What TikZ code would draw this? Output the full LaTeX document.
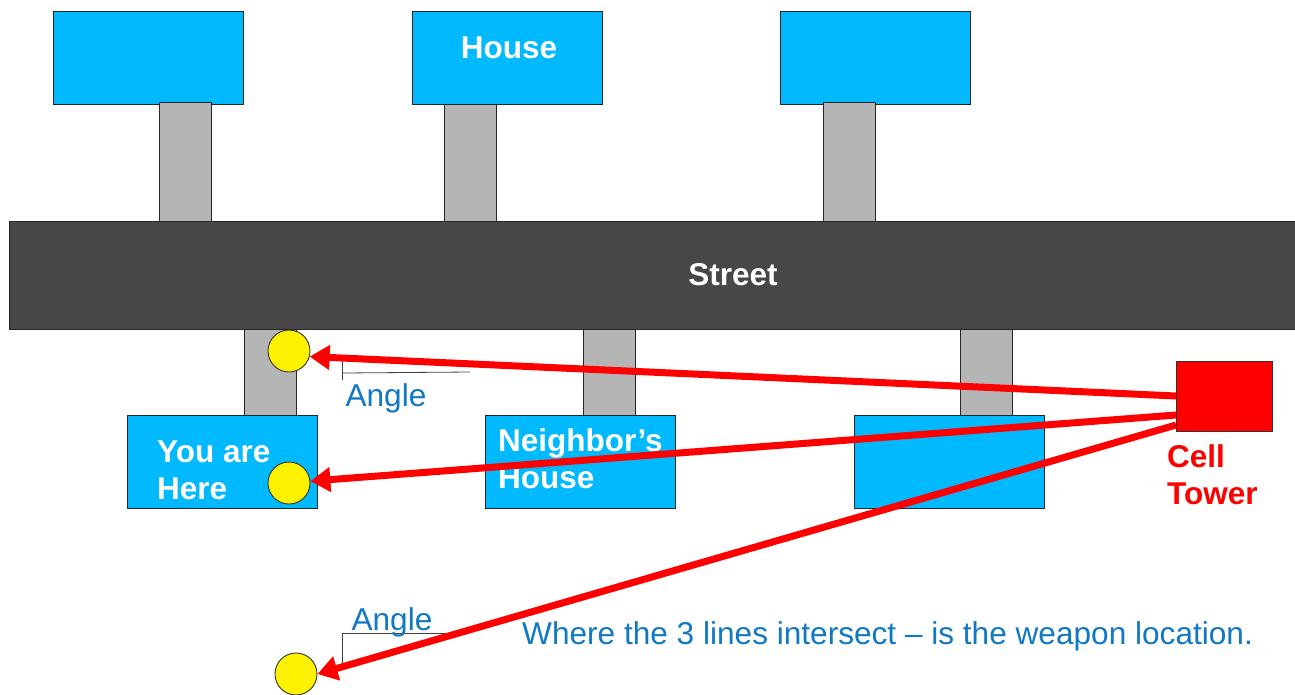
\documentclass[tikz,border=0pt]{standalone}
\usepackage{fontspec}
\setmainfont{Liberation Sans}
\usetikzlibrary{arrows.meta}
\definecolor{houseblue}{HTML}{00B9FF}
\definecolor{drivegray}{HTML}{B5B5B5}
\definecolor{streetgray}{HTML}{474747}
\definecolor{noteblue}{HTML}{1078C4}
\tikzset{
    house/.style={draw=black!85,fill=houseblue,line width=0.9pt,minimum width=190pt,minimum height=93pt,inner sep=0pt},
    drive/.style={draw=black!85,fill=drivegray,line width=0.9pt,minimum width=52pt,inner sep=0pt},
    phone/.style={circle,draw=black!80,fill=yellow,line width=0.9pt,minimum size=42pt,inner sep=0pt},
    boldtext/.style={text=white,font=\fontsize{31.5}{37}\selectfont\bfseries,align=left,inner sep=0pt},
    note/.style={text=noteblue,font=\fontsize{31.6}{36}\selectfont,inner sep=0pt},
    ray/.style={draw=red,line width=7pt,-{Triangle[length=20pt,width=24pt]}},
    anglemark/.style={draw=black!75,line width=0.8pt}
}
\begin{document}
\begin{tikzpicture}[x=1pt,y=-1pt]
    \useasboundingbox (0,0) rectangle (1295,694);
    \clip (0,0) rectangle (1295,694);

    % Top row
    \node[house] (h1) at (148.7,58) {};
    \node[house] (h2) at (507,58) {};
    \node[house] (h3) at (875.7,58) {};
    \node[drive,minimum height=119pt] (d1) at (185,161.5) {};
    \node[drive,minimum height=117pt] (d2) at (470.5,162.5) {};
    \node[drive,minimum height=119pt] (d3) at (849.5,161.5) {};
    \node[boldtext] (housetext) at (509,48) {House};

    % Bottom row
    \node[drive,minimum height=87pt] (d4) at (270.7,372) {};
    \node[drive,minimum height=87pt] (d5) at (609.5,372) {};
    \node[drive,minimum height=87pt] (d6) at (986,372) {};
    \node[house] (h4) at (222.3,462) {};
    \node[house] (h5) at (580.7,462) {};
    \node[house] (h6) at (949.7,462) {};
    \node[boldtext,anchor=west] (heretext) at (157,470) {You are\\Here};
    \node[boldtext,anchor=west] (neighbortext) at (498,458.5) {Neighbor’s\\House};

    % Street
    \node[draw=black!85,fill=streetgray,line width=0.9pt,minimum width=1290pt,minimum height=108pt,inner sep=0pt,anchor=north west] (street) at (9,221) {};
    \node[boldtext] (streettext) at (733,275) {Street};

    % Tower
    \node[draw=black!80,fill=red,line width=0.9pt,minimum width=96pt,minimum height=70pt,inner sep=0pt] (tower) at (1224,396) {};
    \node[boldtext,text=red,anchor=north west] (towertext) at (1167,444) {Cell\\Tower};

    % Phones
    \node[phone] (p1) at (289,351) {};
    \node[phone] (p2) at (289,483) {};
    \node[phone] (p3) at (296,674) {};

    % Angle marks
    \coordinate (a1) at (342,373);
    \coordinate (a2) at (470,372);
    \coordinate (a3) at (342,357);
    \coordinate (a4) at (342,380);
    \coordinate (a5) at (342,633);
    \coordinate (a6) at (449,633);
    \coordinate (a7) at (342,664);
    \draw[anglemark] (a1) -- (a2);
    \draw[anglemark] (a3) -- (a4);
    \draw[anglemark] (a7) -- (a5) -- (a6);
    \node[note] (angle1) at (386,398) {Angle};
    \node[note] (angle2) at (392,622) {Angle};
    \node[note,anchor=west] (weapontext) at (522,636) {Where the 3 lines intersect – is the weapon location.};

    % Rays
    \coordinate (t1) at (1176,396);
    \coordinate (t2) at (1176,415);
    \coordinate (t3) at (1176,425);
    \draw[ray] (t1) -- (p1.-15);
    \draw[ray] (t2) -- (p2.5);
    \draw[ray] (t3) -- (p3.east);
\end{tikzpicture}
\end{document}
